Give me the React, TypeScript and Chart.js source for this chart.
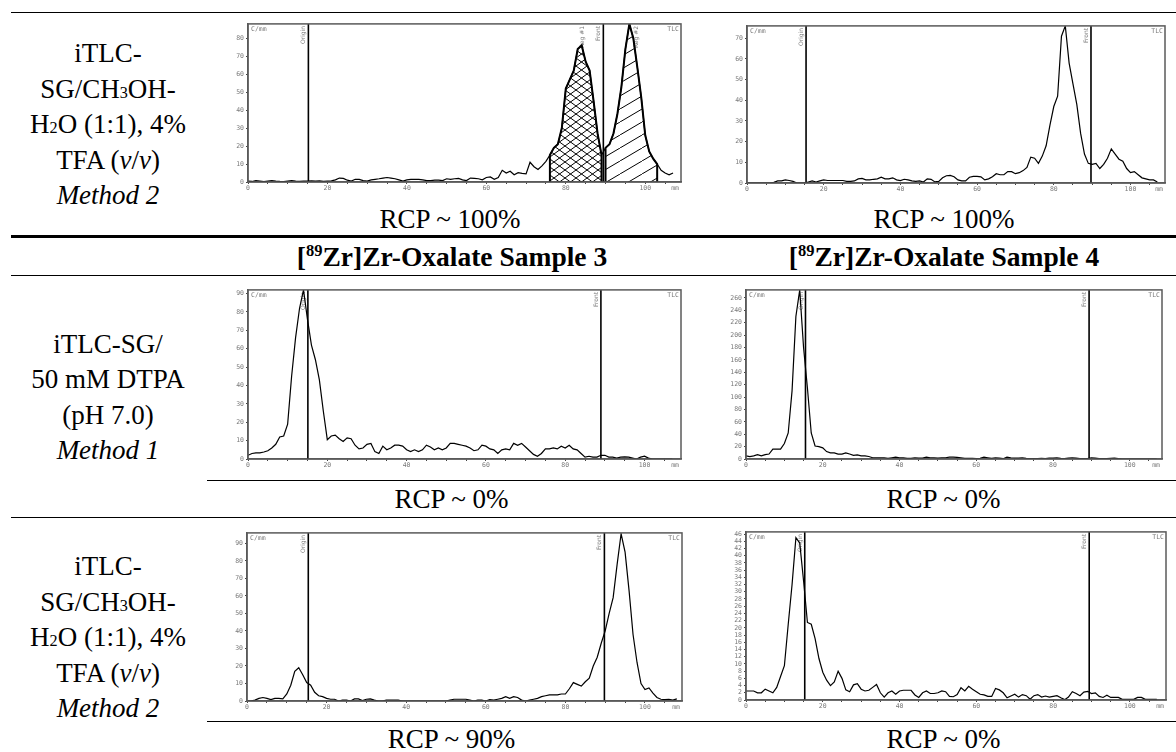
import React, { useEffect, useRef } from 'react';
import { Chart, registerables } from 'chart.js';

Chart.register(...registerables);

// ---------- data (counts per mm, sampled every 1 mm from 0 mm) ----------
const SAMPLE_STEP_MM = 1;

const ROW1_SAMPLE1 = [
  0.5, 0.3, 0.8, 0.5, 0.2, 0.5, 0.8, 0.5, 0.3, 0.2,
  0.5, 0.8, 0.5, 0.3, 0.5, 0.5, 0.6, 0.5, 0.6, 0.3,
  0.5, 0.6, 1.2, 2.2, 2, 1, 0.5, 1.5, 1.5, 0.8,
  0.5, 1.2, 1.5, 1.8, 2.2, 2.5, 2.2, 1.8, 1.2, 0.5,
  1.2, 1.5, 1.5, 1.5, 1.2, 0.8, 0.8, 1, 1, 0.8,
  1.8, 1.5, 1.8, 2, 1.2, 0.8, 2.2, 2, 1.8, 1.2,
  2.5, 2.8, 1.5, 2.5, 6.5, 5, 6, 4, 5.2, 4.8,
  4.5, 11, 8.5, 7, 9, 11.5, 15, 19, 21, 30,
  52, 57, 62, 74, 76, 67, 62, 45, 27, 15,
  19, 21, 27, 38, 53, 74, 88, 80, 64, 47,
  26, 17, 13, 10, 6.5, 5, 4, 5,
];

const ROW1_SAMPLE2 = [
  0, 0, 0, 0, 0, 0, 0, 0.3, 1, 1,
  1.5, 1.2, 0.8, 0, 0, 0, 0.5, 1, 0.5, 1,
  1.5, 1.2, 1.2, 1.2, 1.2, 1.2, 0.8, 0.8, 1, 2,
  2.2, 1.5, 1.5, 1.8, 2, 2.8, 2, 2, 2.5, 1.5,
  1.2, 1.8, 1.5, 1, 0.8, 1, 0.5, 2, 1.8, 0.5,
  0.8, 2.5, 3.5, 3.7, 3, 1.5, 1, 1, 2.8, 3.2,
  3.2, 3, 1.5, 2, 3, 4.5, 4, 4, 5.5, 5.5,
  4.5, 5, 6, 7.5, 12.5, 12, 9.5, 13, 18, 28,
  37, 42, 71, 76, 58, 48, 38, 24, 14, 9.5,
  9, 9.5, 7, 9, 12, 16.5, 14, 11.5, 10.5, 7,
  5, 5.5, 4, 2.5, 2, 1.5, 1.5, 0.5,
];

const DTPA_SAMPLE3 = [
  2, 3, 3.3, 3.3, 3.8, 4.5, 6, 8, 12, 12.5,
  19, 45, 66, 82, 92, 76, 62, 54, 43, 26,
  10.5, 12.5, 13, 11, 9.5, 11.5, 11, 7.5, 5.5, 6,
  8, 8.5, 4, 3, 7, 5, 6, 7.5, 7.5, 7,
  5, 4, 5, 4, 5, 7.5, 6.5, 5, 6, 5,
  6, 8.5, 8.5, 8, 7.5, 7, 6, 4.5, 5, 7.5,
  7, 5.5, 5, 3, 5, 5.5, 5, 8.5, 7.5, 8.5,
  6.5, 4.5, 2.5, 1.5, 3, 5.5, 5.5, 6, 5.5, 7,
  6, 7.5, 5.5, 5, 3, 1, 1.5, 1, 1, 2,
  2, 1, 1, 0.5, 1, 1.2, 1, 0.5, 0, 1,
  1.5, 0.5, 0, 0, 0, 0, 0, 0,
];

const DTPA_SAMPLE4 = [
  5, 4, 5, 7, 5, 7, 8, 16, 16, 16,
  25, 42, 110, 230, 273, 180, 115, 42, 21, 20,
  18, 12, 10, 10, 8, 8, 10, 8, 6, 6.5,
  5, 5, 4, 2, 2, 2, 2, 1, 2, 3,
  2, 2, 1, 1, 2, 1.5, 1.5, 3, 2, 2,
  1.5, 2, 2, 3, 3, 2.5, 2, 1, 1, 1,
  0.5, 1, 3, 2, 1, 2, 1.5, 0.5, 3, 2,
  1.5, 1.5, 2, 1, 0.5, 0.5, 0.5, 1, 0.5, 1.5,
  1.5, 2, 1, 0.5, 1.5, 2, 1.5, 0.5, 0.5, 0.5,
  2, 1.5, 0.5, 0.5, 0.5, 1, 1.5, 0.5, 0, 0,
  0, 0, 0, 0, 0, 0, 0, 0,
];

const TFA_SAMPLE3 = [
  0, 0, 0.5, 1.5, 2, 1.5, 0.8, 1.5, 1.5, 1.2,
  4, 9, 17, 19, 15, 10.5, 9, 5, 3, 2.5,
  1.5, 1, 1, 0, 0.5, 0.5, 0, 1.2, 1.2, 0.3,
  1, 1.2, 0.5, 0, 0, 0.5, 0.5, 0.5, 0.5, 0,
  0, 0, 0, 0, 0, 0, 0, 0, 0, 0,
  0, 0.5, 1, 1, 1, 1, 0.5, 0, 0.5, 0.5,
  0, 0.8, 0.5, 1, 1.5, 2.5, 1.5, 2.5, 2, 0.5,
  0, 0.5, 1, 1.5, 2.5, 3, 3.5, 3.5, 3.5, 4,
  4, 7, 10.5, 9.5, 8.5, 11, 13, 20, 25, 33,
  40, 50, 59, 78, 95.5, 85, 63, 38, 22, 10,
  6.5, 7.5, 4.5, 2, 1, 0.8, 1, 0.5, 1.2,
];

const TFA_SAMPLE4 = [
  2.5, 2.5, 2.5, 2, 2, 3, 2.5, 2, 3.5, 6.5,
  9.5, 21, 32, 45, 43.5, 33, 21.5, 21, 17, 11.5,
  7.7, 5.5, 4, 5, 8, 6, 2.8, 2.3, 4.2, 4.5,
  3, 2.5, 2.7, 3.5, 4.3, 2, 0.8, 2, 2.5, 1.6,
  2.5, 2.7, 2.7, 2.7, 1.4, 0.7, 2, 2.5, 1.8, 1.8,
  2, 2.5, 2.3, 1, 0.9, 1.5, 3.4, 2.5, 3.8, 3,
  2.3, 1.6, 1.4, 1, 1, 3.2, 2.8, 2, 0.6, 1.1,
  1.6, 0.8, 1.5, 1.2, 0.2, 1.2, 1.5, 0.8, 1.1, 0.8,
  1, 1.2, 0.6, 0.1, 0.8, 2.3, 1.8, 1.2, 2.2, 2.4,
  1.8, 2, 1, 0.7, 1.3, 0.7, 0.7, 0.7, 0.2, 0.2,
  0.2, 0.2, 0.7, 0.7, 0.2, 0.2, 0.2, 0.2,
];

const REG1_MM = [76, 89];
const REG2_MM = [90, 103];

// ---------- chart specs ----------
type Region = { range: number[]; pattern: 'cross' | 'diag' };
type Spec = {
  values: number[];
  l: number; t: number; r: number; b: number;
  xMax: number; yMax: number; yStep: number;
  origin: number; front: number;
  regions?: Region[];
  regLabels?: { at: number; text: string }[];
};

const SPECS: Spec[] = [
  {
    values: ROW1_SAMPLE1, l: 248, t: 23, r: 681, b: 182, xMax: 109, yMax: 88, yStep: 10,
    origin: 15.2, front: 89.45,
    regions: [{ range: REG1_MM, pattern: 'cross' }, { range: REG2_MM, pattern: 'diag' }],
    regLabels: [{ at: 85.4, text: 'Reg #1' }, { at: 98.9, text: 'Reg #2' }],
  },
  { values: ROW1_SAMPLE2, l: 747, t: 25, r: 1165, b: 183, xMax: 109, yMax: 76, yStep: 10, origin: 15.4, front: 89.7 },
  { values: DTPA_SAMPLE3, l: 248, t: 289, r: 681, b: 459, xMax: 109.2, yMax: 92, yStep: 10, origin: 15.1, front: 89.0 },
  { values: DTPA_SAMPLE4, l: 746, t: 289, r: 1162, b: 459, xMax: 108.4, yMax: 273, yStep: 20, origin: 15.5, front: 89.4 },
  { values: TFA_SAMPLE3, l: 247, t: 532, r: 682, b: 701, xMax: 109.3, yMax: 96, yStep: 10, origin: 15.4, front: 89.8 },
  { values: TFA_SAMPLE4, l: 746, t: 531, r: 1166, b: 700, xMax: 109.4, yMax: 46.6, yStep: 2, origin: 15.3, front: 89.4 },
];

const SERIF = '"Liberation Serif", "Times New Roman", serif';
const TICK_FONT = '"DejaVu Sans Mono", monospace';
const LABEL_GRAY = '#7a7a7a';

const toPoints = (vals: number[]) => vals.map((y, i) => ({ x: i * SAMPLE_STEP_MM, y }));

function makePattern(kind: 'cross' | 'diag'): CanvasPattern | string {
  const c = document.createElement('canvas');
  const w = kind === 'cross' ? 11 : 22;
  const h = kind === 'cross' ? 8 : 13;
  c.width = w; c.height = h;
  const g = c.getContext('2d');
  if (!g) return '#ccc';
  g.strokeStyle = '#000';
  g.lineWidth = 1;
  g.beginPath();
  const k = h / w;
  if (kind === 'cross') {
    g.moveTo(-1, -k); g.lineTo(w + 1, h + k);
    g.moveTo(w + 1, -k); g.lineTo(-1, h + k);
  } else {
    g.moveTo(-2, h + 2 * k); g.lineTo(w + 2, -2 * k);
  }
  g.stroke();
  return g.createPattern(c, 'repeat') || '#ccc';
}

const Y_AXIS_W = 24, PAD_T = 5, PAD_R = 4, X_AXIS_H = 14;

function TlcChart({ spec }: { spec: Spec }) {
  const ref = useRef<HTMLCanvasElement>(null);
  const w = spec.r - spec.l + Y_AXIS_W + PAD_R;
  const h = spec.b - spec.t + PAD_T + X_AXIS_H;

  useEffect(() => {
    const canvas = ref.current;
    if (!canvas) return;
    const pts = toPoints(spec.values);
    const datasets: any[] = [
      { data: pts, borderColor: '#000', borderWidth: 1.2, fill: false, pointRadius: 0 },
    ];
    (spec.regions || []).forEach((reg) => {
      const [a, b] = reg.range;
      const inside = pts.filter((p) => p.x >= a && p.x <= b);
      datasets.push({
        data: [{ x: a, y: 0 }, ...inside, { x: b, y: 0 }],
        borderColor: '#000',
        borderWidth: 2,
        pointRadius: 0,
        fill: 'origin',
        backgroundColor: makePattern(reg.pattern),
      });
    });

    const plugin = {
      id: 'tlcDecor',
      beforeDatasetsDraw(chart: any) {
        const { ctx, chartArea: a, scales } = chart;
        const x = scales.x;
        ctx.save();
        ctx.strokeStyle = '#000';
        ctx.lineWidth = 1.6;
        [spec.origin, spec.front].forEach((mm) => {
          const px = x.getPixelForValue(mm);
          ctx.beginPath();
          ctx.moveTo(px, a.top);
          ctx.lineTo(px, a.bottom);
          ctx.stroke();
        });
        ctx.fillStyle = LABEL_GRAY;
        ctx.font = '6px "DejaVu Sans", sans-serif';
        const labels = [
          { at: spec.origin, text: 'Origin' },
          { at: spec.front, text: 'Front' },
          ...(spec.regLabels || []),
        ];
        labels.forEach((lb) => {
          const px = x.getPixelForValue(lb.at);
          ctx.save();
          ctx.translate(px - 1.5, a.top + 2);
          ctx.rotate(-Math.PI / 2);
          ctx.textAlign = 'right';
          ctx.textBaseline = 'bottom';
          ctx.fillText(lb.text, 0, 0);
          ctx.restore();
        });
        ctx.font = `6.5px ${TICK_FONT}`;
        ctx.textBaseline = 'top';
        ctx.textAlign = 'left';
        ctx.fillText('C/mm', a.left + 3, a.top + 2);
        ctx.textAlign = 'right';
        ctx.fillText('TLC', a.right - 2, a.top + 2);
        ctx.textBaseline = 'middle';
        ctx.fillText('mm', a.right - 2, a.bottom + 6);
        ctx.restore();
      },
      afterDraw(chart: any) {
        const { ctx, chartArea: a } = chart;
        ctx.save();
        ctx.strokeStyle = '#5a5a5a';
        ctx.lineWidth = 1.5;
        ctx.strokeRect(a.left, a.top, a.right - a.left, a.bottom - a.top);
        ctx.restore();
      },
    };

    const tickFont = { family: TICK_FONT, size: 6.5 };
    const chart = new Chart(canvas, {
      type: 'line',
      data: { datasets },
      options: {
        animation: false,
        responsive: false,
        maintainAspectRatio: false,
        devicePixelRatio: 1,
        parsing: false as any,
        normalized: true,
        layout: { padding: { top: PAD_T, right: PAD_R, left: 0, bottom: 0 } },
        plugins: { legend: { display: false }, tooltip: { enabled: false } },
        elements: { point: { radius: 0 }, line: { tension: 0 } },
        scales: {
          x: {
            type: 'linear',
            min: 0,
            max: spec.xMax,
            afterBuildTicks: (s: any) => {
              s.ticks = s.ticks.filter((t: any) => Math.abs(t.value % 5) < 1e-6);
            },
            afterFit: (s: any) => { s.height = X_AXIS_H; },
            ticks: {
              stepSize: 5,
              autoSkip: false,
              includeBounds: false,
              maxRotation: 0,
              minRotation: 0,
              padding: 0,
              color: LABEL_GRAY,
              font: tickFont,
              callback: (v: any) => (Number(v) % 20 === 0 ? String(v) : ''),
            },
            grid: { display: true, drawOnChartArea: false, drawTicks: true, tickLength: 2, color: '#444' },
            border: { display: true, color: '#5a5a5a', width: 1.5 },
          },
          y: {
            type: 'linear',
            min: 0,
            max: spec.yMax,
            afterBuildTicks: (s: any) => {
              s.ticks = s.ticks.filter((t: any) => Math.abs(t.value % spec.yStep) < 1e-6);
            },
            afterFit: (s: any) => { s.width = Y_AXIS_W; },
            ticks: {
              stepSize: spec.yStep,
              autoSkip: false,
              includeBounds: false,
              padding: 2,
              color: LABEL_GRAY,
              font: tickFont,
            },
            grid: { display: true, drawOnChartArea: false, drawTicks: true, tickLength: 2, color: '#444' },
            border: { display: true, color: '#5a5a5a', width: 1.5 },
          },
        },
      } as any,
      plugins: [plugin as any],
    });
    return () => chart.destroy();
  }, [spec]);

  return (
    <canvas
      ref={ref}
      width={w}
      height={h}
      style={{ position: 'absolute', left: spec.l - Y_AXIS_W, top: spec.t - PAD_T, width: w, height: h }}
    />
  );
}

// ---------- text helpers ----------
const BODY_SIZE = 27;

function Label({ cx, baseline, size = BODY_SIZE, bold = false, children }: any) {
  return (
    <div
      style={{
        position: 'absolute',
        left: cx,
        top: baseline - size * 0.8375,
        transform: 'translateX(-50%)',
        fontFamily: SERIF,
        fontSize: size,
        lineHeight: `${size}px`,
        fontWeight: bold ? 'bold' : 'normal',
        whiteSpace: 'nowrap',
        color: '#000',
      }}
    >
      {children}
    </div>
  );
}

function HLine({ y, x1, x2, h = 1 }: { y: number; x1: number; x2: number; h?: number }) {
  return <div style={{ position: 'absolute', left: x1, top: y, width: x2 - x1, height: h, background: '#000' }} />;
}

const Sub = ({ children }: any) => <span style={{ fontSize: '0.6em', lineHeight: 0 }}>{children}</span>;

function LeftBlock({ baseline, lines }: { baseline: number; lines: React.ReactNode[] }) {
  const lh = 35.5;
  const top = baseline - ((lh - 1.107 * BODY_SIZE) / 2 + 0.891 * BODY_SIZE);
  return (
    <div
      style={{
        position: 'absolute',
        left: 11,
        top,
        width: 194,
        textAlign: 'center',
        fontFamily: SERIF,
        fontSize: BODY_SIZE,
        lineHeight: `${lh}px`,
        whiteSpace: 'nowrap',
        color: '#000',
      }}
    >
      {lines.map((ln, i) => (
        <div key={i}>{ln}</div>
      ))}
    </div>
  );
}

const TFA_LINES = [
  'iTLC-',
  <>SG/CH<Sub>3</Sub>OH-</>,
  <>H<Sub>2</Sub>O (1:1), 4%</>,
  <>TFA (<i>v</i>/<i>v</i>)</>,
  <i>Method 2</i>,
];

const DTPA_LINES = ['iTLC-SG/', '50 mM DTPA', '(pH 7.0)', <i>Method 1</i>];

const Header = ({ n }: { n: number }) => (
  <>
    [<span style={{ fontSize: '0.6em', verticalAlign: 'super', lineHeight: 0 }}>89</span>Zr]Zr-Oxalate Sample {n}
  </>
);

export default function App() {
  return (
    <div
      style={{
        position: 'absolute',
        left: 0,
        top: 0,
        width: 1176,
        height: 752,
        background: '#fff',
        overflow: 'hidden',
      }}
    >
      <HLine y={12} x1={11} x2={1176} />
      <HLine y={235} x1={11} x2={1176} h={3} />
      <HLine y={275} x1={11} x2={1176} />
      <HLine y={480} x1={207} x2={1176} />
      <HLine y={517} x1={11} x2={1176} />
      <HLine y={721} x1={207} x2={1176} />

      <LeftBlock baseline={63} lines={TFA_LINES} />
      <LeftBlock baseline={353.5} lines={DTPA_LINES} />
      <LeftBlock baseline={576} lines={TFA_LINES} />

      <Label cx={452} baseline={266} size={27.5} bold>
        <Header n={3} />
      </Label>
      <Label cx={944} baseline={266} size={27.5} bold>
        <Header n={4} />
      </Label>

      <Label cx={450} baseline={229}>RCP ~ 100%</Label>
      <Label cx={944} baseline={229}>RCP ~ 100%</Label>
      <Label cx={451.5} baseline={509}>RCP ~ 0%</Label>
      <Label cx={943.5} baseline={509}>RCP ~ 0%</Label>
      <Label cx={451.5} baseline={749}>RCP ~ 90%</Label>
      <Label cx={943.5} baseline={749}>RCP ~ 0%</Label>

      {SPECS.map((s, i) => (
        <TlcChart key={i} spec={s} />
      ))}
    </div>
  );
}
